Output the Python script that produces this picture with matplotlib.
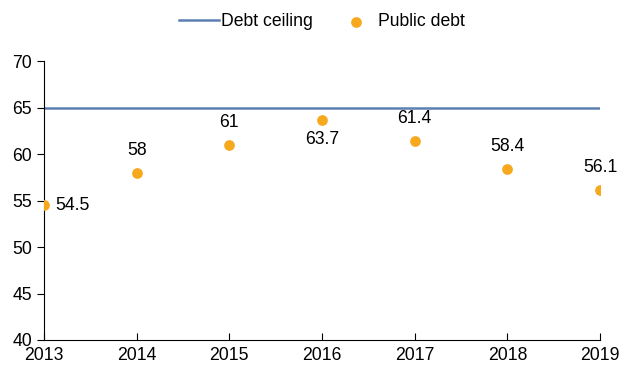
import matplotlib.pyplot as plt

plt.rcParams['font.family'] = ['Liberation Sans', 'DejaVu Sans']

years = [2013, 2014, 2015, 2016, 2017, 2018, 2019]
public_debt = [54.5, 58, 61, 63.7, 61.4, 58.4, 56.1]
ceiling = [65] * len(years)
labels = ['54.5', '58', '61', '63.7', '61.4', '58.4', '56.1']

fs = 12.7

fig = plt.figure(figsize=(6.22, 3.69), dpi=100)
ax = fig.add_axes([0.0707, 0.0786, 0.894, 0.756])

ax.plot(years, ceiling, color='#5d7fb2', lw=1.8, label='Debt ceiling')
ax.scatter(years, public_debt, color='#f7a91e', s=45, zorder=3, label='Public debt')

for i, (x, y, t) in enumerate(zip(years, public_debt, labels)):
    if i == 0:
        ax.annotate(t, (x, y), xytext=(8, 0), textcoords='offset points',
                    ha='left', va='center', fontsize=fs)
    elif t == '63.7':
        ax.annotate(t, (x, y), xytext=(0, -8), textcoords='offset points',
                    ha='center', va='top', fontsize=fs)
    else:
        ax.annotate(t, (x, y), xytext=(0, 10), textcoords='offset points',
                    ha='center', va='bottom', fontsize=fs)

ax.set_xlim(2013, 2019)
ax.set_ylim(40, 70)
ax.set_yticks(range(40, 71, 5))
ax.set_xticks(years)
ax.spines['top'].set_visible(False)
ax.spines['right'].set_visible(False)
ax.tick_params(axis='y', direction='out', labelsize=fs, length=5)
ax.tick_params(axis='x', direction='in', labelsize=fs, length=5, pad=5)
ax.legend(loc='center', bbox_to_anchor=(0.5, 1.14), ncol=2, frameon=False,
          fontsize=fs, handlelength=2.3, handletextpad=0.1, columnspacing=1.3)

fig.savefig('out.png', dpi=100)
